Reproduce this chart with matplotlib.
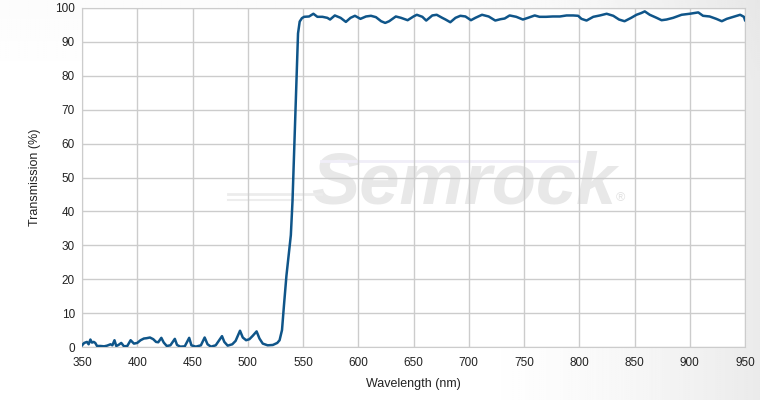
import numpy as np
import matplotlib
matplotlib.use("Agg")
import matplotlib.pyplot as plt

# spectrum (nm, % transmission)
wl_low = [350, 352, 354.5, 356, 357.6, 359, 360.6, 362, 363.6, 366.7, 370, 372.7,
          375.8, 377.5, 379.4, 381, 383, 385.5, 388, 391, 394, 397, 400, 403, 406,
          408.5, 411.5, 414.5, 417, 419, 421.8, 424, 426.7, 430, 434, 436, 439, 443,
          447, 449, 453, 457.6, 461, 463.6, 466.7, 471, 476.7, 478.8, 481.8, 486,
          489, 493, 495.5, 498.5, 501.5, 504.5, 508, 510.6, 513.6, 518, 522.7,
          526.7, 528.8, 531, 532.7]
tr_low = [0.5, 1.2, 1.5, 0.8, 2.2, 1.3, 1.5, 1.2, 0.3, 0.3, 0.2, 0.4,
          0.8, 0.5, 2.0, 0.3, 0.6, 1.2, 0.2, 0.3, 2.0, 1.0, 1.2, 2.0, 2.5,
          2.6, 2.8, 2.3, 1.5, 1.4, 2.7, 1.3, 0.3, 0.5, 2.4, 0.6, 0.1, 0.2,
          2.7, 0.5, 0.1, 0.5, 2.8, 0.8, 0.1, 0.5, 3.2, 1.5, 0.4, 0.8,
          1.8, 4.8, 2.8, 2.0, 2.3, 3.3, 4.6, 2.5, 1.0, 0.5, 0.6,
          1.2, 2.0, 5.0, 12.0]

wl_edge = [535, 537, 539, 540.5, 542, 543.5, 544.5, 545.5, 547]
tr_edge = [21, 27, 33, 43, 58, 73, 83, 92.5, 96]

wl_top = [549, 551, 555.5, 559.4, 563, 567.6, 572, 574.5, 578.8, 584, 588.8, 593,
          597, 602, 607, 611.5, 616, 620.7, 624.4, 628, 634, 638.7, 644.7, 650,
          653, 658, 661.5, 667, 671, 676, 679, 683.3, 688, 692.4, 697, 702, 706,
          712, 718, 724, 728.8, 732.5, 737, 743, 749, 753.6, 759.7, 764, 770,
          776, 782.5, 788.5, 794.5, 799, 802, 806.6, 812.7, 818.7, 824.8, 830.8,
          836, 841, 847, 851.8, 856, 859.3, 863.8, 870, 874.5, 879, 885, 892.6,
          900, 907.7, 912, 918, 924, 929, 933.5, 939.5, 945.6, 949, 950]
tr_top = [97.0, 97.4, 97.5, 98.3, 97.4, 97.4, 97.1, 96.6, 97.8, 97.1, 95.9, 97.1,
          97.7, 96.8, 97.5, 97.7, 97.3, 96.1, 95.6, 96.1, 97.5, 97.1, 96.4, 97.5,
          98.0, 97.4, 96.3, 97.8, 98.0, 97.1, 96.6, 95.8, 97.1, 97.7, 97.5, 96.4, 97.1,
          98.0, 97.5, 96.3, 96.7, 96.9, 97.8, 97.4, 96.6, 97.1, 97.8, 97.4, 97.4,
          97.5, 97.5, 97.8, 97.8, 97.7, 96.8, 96.3, 97.4, 97.8, 98.3, 97.7,
          96.6, 96.1, 97.1, 98.0, 98.5, 99.0, 98.0, 97.1, 96.4, 96.6, 97.1, 98.0,
          98.3, 98.7, 97.7, 97.5, 96.8, 96.1, 96.8, 97.4, 98.0, 97.4, 96.4]

wavelength = np.array(wl_low + wl_edge + wl_top)
transmission = np.array(tr_low + tr_edge + tr_top)

x_ticks = [350, 400, 450, 500, 550, 600, 650, 700, 750, 800, 850, 900, 950]
y_ticks = [0, 10, 20, 30, 40, 50, 60, 70, 80, 90, 100]

plt.rcParams['font.family'] = ['Liberation Sans', 'DejaVu Sans']

fig = plt.figure(figsize=(7.6, 4), dpi=100)

# soft grey background towards the right edge
bg = fig.add_axes([0, 0, 1, 1], zorder=-10)
gx = np.linspace(0, 1, 400)
gy = np.linspace(0, 1, 200)
GX, GY = np.meshgrid(gx, gy)
shade = np.clip((GX - 0.6) / 0.4, 0, 1) ** 1.6 * 0.08 + np.clip((0.2 - GY) / 0.2, 0, 1) * 0.015
bg.imshow(1 - shade, cmap='gray', vmin=0, vmax=1, aspect='auto', origin='upper',
          extent=[0, 1, 0, 1])
bg.axis('off')

ax = fig.add_axes([82 / 760, 53 / 400, 663 / 760, 339 / 400])
ax.set_facecolor('white')
ax.set_axisbelow(True)
ax.grid(True, color='#cccccc', lw=1)

# watermark
ax.text(0.575, 0.48, 'Semrock', transform=ax.transAxes, ha='center', va='center',
        fontsize=52, fontweight='heavy', style='italic', color='#e8e8e8', zorder=0.1)
ax.text(0.805, 0.44, '®', transform=ax.transAxes, ha='left', va='center',
        fontsize=9, color='#e2e2e2', zorder=0.1)
ax.plot([0.36, 0.75], [0.55, 0.55], transform=ax.transAxes, color='#f0eef8',
        lw=2, zorder=0.1)
ax.plot([0.22, 0.36], [0.45, 0.45], transform=ax.transAxes, color='#ececec',
        lw=2, zorder=0.1)
ax.plot([0.22, 0.33], [0.435, 0.435], transform=ax.transAxes, color='#ededed',
        lw=1.5, zorder=0.1)

ax.plot(wavelength, transmission, color='#0f5589', lw=1.8, zorder=3)

ax.set_xlim(350, 950)
ax.set_ylim(0, 100)
ax.set_xticks(x_ticks)
ax.set_yticks(y_ticks)
ax.tick_params(length=0, labelsize=8.5, colors='#222222')
ax.tick_params(axis='x', pad=7)
ax.tick_params(axis='y', pad=5)
for s in ax.spines.values():
    s.set_color('#cccccc')

ax.set_xlabel('Wavelength (nm)', fontsize=9, color='#222222', labelpad=7)
ax.set_ylabel('Transmission (%)', fontsize=9, color='#222222', labelpad=10)

fig.savefig('out.png', dpi=100)
